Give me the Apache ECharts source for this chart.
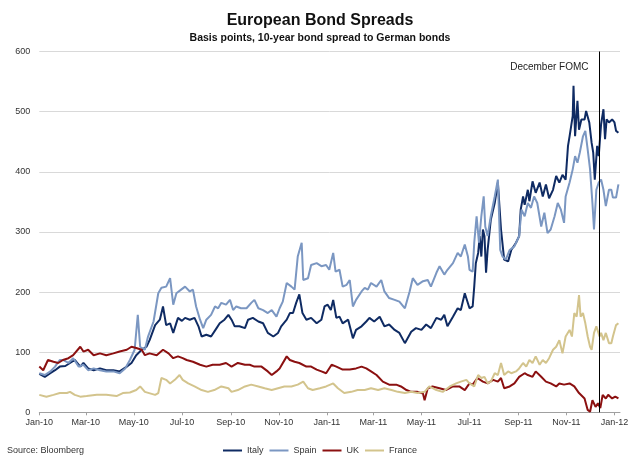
<!DOCTYPE html>
<html><head><meta charset="utf-8">
<script src="https://cdn.jsdelivr.net/npm/echarts@6/dist/echarts.min.js"></script>
<style>html,body{margin:0;padding:0;background:#fff;}#c{width:640px;height:465px;}</style>
</head><body><div id="c"></div>
<script>
const chartTitle = 'European Bond Spreads';
const chartSubtitle = 'Basis points, 10-year bond spread to German bonds';
const sourceNote = 'Source: Bloomberg';
const seriesNames = ['Italy', 'Spain', 'UK', 'France'];
const seriesColors = ['#0f2b63', '#7b97c2', '#8b1010', '#d3c48d'];
const tickLabels = ['Jan-10','Mar-10','May-10','Jul-10','Sep-10','Nov-10','Jan-11','Mar-11','May-11','Jul-11','Sep-11','Nov-11','Jan-12'];
const yMin = 0, yMax = 600, yStep = 100;
const axisEndDay = 737;          // days since 2010-01-01
const fomcDay = 711;             // 13 Dec 2011
const fomcLabel = 'December FOMC';

// [days since 2010-01-01, basis points]
const italy = [[0,64],[7,59],[14,65],[20,70],[26,76],[33,77],[39,82],[45,87],[52,76],[56,82],[62,73],[69,70],[77,73],[85,70],[94,70],[102,68],[111,76],[117,82],[123,95],[130,104],[136,109],[140,120],[147,145],[153,154],[157,176],[161,145],[166,148],[170,132],[176,157],
[181,152],[185,157],[191,154],[197,157],[202,143],[206,126],[212,129],[218,126],[225,140],[229,148],[235,154],[240,162],[244,154],[248,143],[254,143],[261,140],[265,154],[271,157],[278,151],[284,148],[290,132],[297,126],[303,132],[307,143],[314,154],[318,165],[322,165],[326,182],[330,196],[334,165],[339,154],[345,157],[352,148],[358,154],[362,176],[366,179],
[370,170],[373,187],[377,157],[381,159],[385,148],[392,154],[398,123],[402,137],[409,143],[415,151],[419,157],[425,151],[432,159],[438,143],[444,146],[451,137],[457,132],[464,115],[466,112],[472,134],[478,140],[485,137],[491,146],[497,140],[504,157],[510,154],[514,162],[518,143],[525,159],[531,173],[535,170],[540,198],
[546,173],[550,176],[552,209],[554,248],[557,265],[559,293],[561,259],[563,304],[565,293],[567,232],[569,270],[573,320],[578,348],[582,382],[586,304],[590,254],[595,251],[599,270],[605,282],[609,293],[611,337],[614,359],[616,345],[620,370],[622,351],[626,384],[630,365],[635,382],[639,359],[643,379],[647,356],[652,370],[656,393],[660,382],[664,395],[668,387],[671,443],[673,459],[675,476],[677,493],[678,543],[680,459],[683,518],[685,470],[688,487],[692,487],[694,501],[698,482],[701,448],[703,432],[705,387],[708,443],[710,426],[713,479],[716,504],[718,454],[720,487],[723,482],[727,487],[730,482],[732,468],[735,465]];
const spain = [[0,65],[7,62],[14,68],[20,76],[26,87],[30,87],[37,82],[43,90],[50,76],[56,79],[62,70],[69,73],[77,70],[85,68],[94,68],[102,65],[109,73],[115,87],[121,104],[125,162],[128,109],[134,104],[138,126],[145,151],[151,198],[155,207],[161,209],[166,223],[170,179],[174,198],[180,204],
[185,209],[191,201],[195,204],[199,176],[204,154],[208,140],[212,154],[218,162],[223,176],[227,173],[231,182],[237,179],[242,187],[246,170],[250,176],[256,173],[263,173],[269,182],[273,187],[278,173],[284,170],[290,165],[295,170],[301,159],[305,173],[309,184],[314,215],[320,209],[324,204],[328,259],[333,282],[335,220],[341,223],[345,245],[352,248],[358,243],[364,245],
[368,237],[373,265],[376,234],[381,237],[385,209],[390,212],[394,220],[398,176],[402,187],[409,201],[413,207],[417,204],[421,215],[428,209],[434,220],[438,201],[444,190],[451,187],[457,184],[464,173],[466,170],[470,201],[474,223],[480,212],[487,218],[493,220],[497,209],[504,232],[508,243],[514,229],[518,237],[525,248],[531,265],[535,259],[540,279],[544,259],
[546,237],[550,234],[552,282],[555,326],[558,282],[561,326],[564,359],[566,309],[569,293],[573,326],[578,359],[582,387],[585,270],[588,259],[592,254],[597,270],[603,276],[609,293],[612,337],[616,326],[620,348],[624,340],[628,359],[632,348],[637,309],[641,332],[645,298],[649,304],[654,326],[658,348],[662,337],[666,315],[668,359],[673,382],[677,404],[680,426],[683,415],[686,432],[690,459],[693,468],[696,437],[699,404],[702,348],[704,304],[707,370],[710,382],[713,387],[716,370],[719,343],[723,370],[726,370],[728,357],[732,357],[735,379]];
const uk = [[0,76],[5,70],[11,87],[18,84],[24,82],[30,87],[37,90],[43,95],[52,109],[56,101],[62,104],[69,95],[77,98],[85,95],[94,98],[102,101],[111,104],[117,109],[123,107],[130,104],[134,95],[140,98],[149,95],[157,104],[164,98],[170,90],[176,93],
[182,90],[187,87],[195,84],[204,79],[212,76],[220,79],[229,79],[237,82],[244,76],[252,82],[261,79],[267,79],[273,76],[282,76],[290,68],[295,62],[301,68],[305,73],[314,93],[318,87],[324,84],[330,82],[339,76],[345,76],[352,71],[358,68],[364,65],[371,79],[377,76],
[385,71],[394,71],[402,73],[409,76],[415,73],[421,68],[428,62],[436,51],[444,46],[453,46],[459,43],[466,37],[472,34],[480,34],[487,31],[489,20],[493,40],[499,43],[508,40],[516,37],[525,43],[533,43],[540,37],
[546,48],[550,46],[556,57],[563,51],[569,48],[576,54],[582,51],[586,57],[590,40],[597,43],[603,48],[609,59],[616,65],[620,62],[626,59],[630,68],[637,59],[643,51],[649,48],[656,43],[660,48],[666,46],[673,48],[679,43],[685,32],[692,23],[696,4],[699,1],[702,20],[706,9],[709,15],[712,7],[715,29],[719,23],[722,29],[727,23],[731,26],[735,23]];
const france = [[0,29],[9,26],[18,29],[26,32],[35,32],[39,34],[45,29],[52,26],[60,27],[73,29],[85,29],[98,27],[106,32],[115,33],[123,37],[128,43],[134,34],[147,29],[151,32],[155,57],[161,54],[166,48],[172,54],[178,62],
[182,54],[189,48],[197,43],[206,37],[214,34],[222,37],[231,43],[240,40],[244,34],[252,37],[261,43],[269,46],[278,43],[286,40],[295,37],[303,40],[311,43],[320,43],[328,46],[335,51],[341,40],[347,37],[356,40],[364,43],[373,48],[379,40],
[387,32],[396,34],[404,37],[413,37],[421,40],[430,37],[438,40],[447,37],[455,34],[464,32],[472,34],[480,32],[489,34],[495,43],[504,37],[512,34],[521,43],[529,48],[535,51],[542,54],
[546,48],[552,43],[557,62],[561,57],[565,59],[569,48],[573,51],[578,65],[582,62],[586,82],[590,62],[595,68],[599,65],[605,68],[609,73],[614,82],[618,76],[622,87],[626,82],[630,93],[635,79],[639,87],[643,82],[647,90],[652,104],[656,109],[660,120],[664,98],[668,126],[673,137],[676,126],[679,165],[682,159],[685,195],[687,159],[690,165],[693,148],[696,126],[699,109],[701,104],[704,132],[707,143],[711,126],[713,132],[716,120],[719,132],[723,115],[726,115],[728,126],[732,145],[735,148]];

const FONT = '"Liberation Sans", Arial, sans-serif';
const monthNames = ['Jan','Feb','Mar','Apr','May','Jun','Jul','Aug','Sep','Oct','Nov','Dec'];
const DAY = 86400000;
const BASE = Date.UTC(2010, 0, 1);
function labelToDay(s) { const p = s.split('-'); return Math.round((Date.UTC(2000 + Number(p[1]), monthNames.indexOf(p[0]), 1) - BASE) / DAY); }
function fmt(v) { const d = new Date(BASE + Math.round(v) * DAY); return monthNames[d.getUTCMonth()] + '-' + String(d.getUTCFullYear()).slice(2); }
const tickValues = tickLabels.map(labelToDay);
const seriesData = [italy, spain, uk, france];

const chart = echarts.init(document.getElementById('c'), null, { renderer: 'canvas' });
const option = {
  animation: false,
  backgroundColor: '#ffffff',
  textStyle: { fontFamily: FONT },
  title: [
    { text: chartTitle, subtext: chartSubtitle, left: 'center', top: 8, itemGap: 4,
      textStyle: { fontFamily: FONT, fontSize: 16, fontWeight: 'bold', color: '#111' },
      subtextStyle: { fontFamily: FONT, fontSize: 10.5, fontWeight: 'bold', color: '#111' } },
    { text: sourceNote, left: 2, top: 441,
      textStyle: { fontFamily: FONT, fontSize: 9, fontWeight: 'normal', color: '#333' } }
  ],
  legend: {
    data: seriesNames, left: 'center', top: 441, icon: 'rect', itemWidth: 19, itemHeight: 2, itemGap: 6,
    textStyle: { fontFamily: FONT, fontSize: 9, color: '#333' }
  },
  grid: { left: 39.3, right: 20, top: 51.5, bottom: 52.7 },
  xAxis: {
    type: 'value', min: 0, max: axisEndDay,
    axisLine: { show: true, lineStyle: { color: '#a0a0a0', width: 1 } },
    axisTick: { show: true, customValues: tickValues, length: 3, lineStyle: { color: '#a0a0a0' } },
    axisLabel: { customValues: tickValues, formatter: fmt, fontFamily: FONT, fontSize: 9, color: '#333', margin: 6, hideOverlap: false, showMinLabel: true, showMaxLabel: true },
    splitLine: { show: false }
  },
  yAxis: {
    type: 'value', min: yMin, max: yMax, interval: yStep,
    axisLine: { show: false }, axisTick: { show: false },
    axisLabel: { fontFamily: FONT, fontSize: 9, color: '#333', margin: 9 },
    splitLine: { lineStyle: { color: '#d9d9d9', width: 1 } }
  },
  series: seriesNames.map((name, i) => {
    const s = {
      name: name, type: 'line', showSymbol: false, symbol: 'none', smooth: false,
      color: seriesColors[i],
      lineStyle: { width: 2, color: seriesColors[i] },
      data: seriesData[i]
    };
    if (i === 0) {
      s.markLine = {
        silent: true, symbol: 'none', label: { show: false },
        lineStyle: { color: '#000', width: 1, type: 'solid' },
        data: [{ xAxis: fomcDay }]
      };
    }
    return s;
  })
};
chart.setOption(option);
const p = chart.convertToPixel({ xAxisIndex: 0, yAxisIndex: 0 }, [fomcDay, yMax]);
chart.setOption({
  graphic: [{ type: 'text', x: p[0] - 11, y: p[1] + 16,
    style: { text: fomcLabel, align: 'right', verticalAlign: 'middle', font: '10px "Liberation Sans", Arial, sans-serif', fill: '#222' } }]
});
</script>
</body></html>
